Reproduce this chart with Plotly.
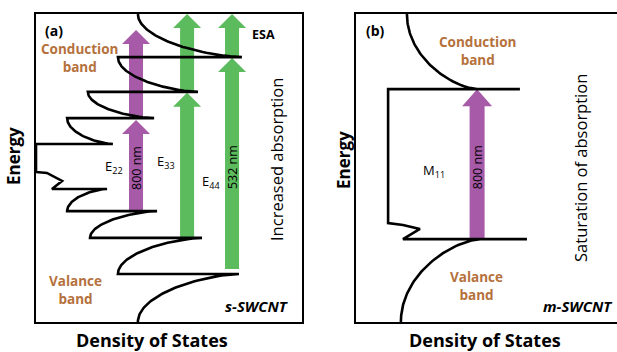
import numpy as np
import plotly.graph_objects as go

# ---------------- data (arbitrary units: DOS 0-100, Energy 0-100) ----------------
# panel (a) s-SWCNT : van Hove singularities
a_cond_energy = [86.0, 74.7, 66.2, 57.8]
a_cond_left = [30.8, 19.5, 11.7, 0.0]
a_cond_peak = [77.4, 60.9, 44.4, 28.9]
a_cond_top = [38.3, 100.0]            # (DOS, energy) where the upper curve leaves the frame
a_gap_dos = [0.0, 0.0, 4.1, 9.8, 6.0]
a_gap_energy = [57.8, 48.7, 48.4, 45.8, 43.2]
a_val_energy = [43.2, 36.0, 27.3, 15.6]
a_val_left = [6.0, 11.7, 20.3, 30.8]
a_val_peak = [26.7, 45.5, 62.4, 76.3]
a_val_bottom = [38.3, 0.0]

# transitions in panel (a)
a_arrow_label = ["800 nm", "800 nm", "532 nm", "532 nm", "532 nm", "532 nm"]
a_arrow_dos = [37.6, 37.6, 56.8, 56.8, 73.7, 73.7]
a_arrow_from = [36.0, 66.2, 27.3, 74.7, 17.2, 86.0]
a_arrow_to = [65.6, 94.8, 74.4, 100.0, 85.7, 100.0]

# panel (b) m-SWCNT
b_cond_energy = 75.6
b_cond_left, b_cond_peak, b_cond_right = 12.3, 46.4, 62.8
b_cond_top = [19.5, 100.0]
b_gap_dos = [12.3, 12.3, 18.0, 24.5, 18.0]
b_gap_energy = [75.6, 32.1, 31.5, 30.2, 26.9]
b_val_energy = 26.9
b_val_left, b_val_peak, b_val_right = 18.0, 47.5, 65.5
b_val_bottom = [17.2, 0.0]

b_arrow_label = ["800 nm"]
b_arrow_dos = [46.4]
b_arrow_from = [26.9]
b_arrow_to = [75.6]

PURPLE = "#A65AA8"
GREEN = "#5CBB5C"
BROWN = "#B5713C"
FONT = "Open Sans"

W, H = 617, 352
A_DOM = [36 / W, 302 / W]
B_DOM = [356 / W, 1.0]
Y_DOM = [30 / H, 338 / H]


def vhs(px, pe, fx, fe, n=60):
    """van Hove-like branch from the peak (px,pe) to the far point (fx,fe)."""
    s = np.linspace(0, 1, n)
    d = 1 - (1 - (1 - s) ** 2) ** 0.65
    return list(fx + (px - fx) * d), list(pe + (fe - pe) * s)


def path_a():
    xs, ys = [], []
    x, y = vhs(a_cond_peak[0], a_cond_energy[0], *a_cond_top)
    xs += x[::-1]; ys += y[::-1]
    xs.append(a_cond_left[0]); ys.append(a_cond_energy[0])
    for k in range(1, len(a_cond_energy)):
        x, y = vhs(a_cond_peak[k], a_cond_energy[k], a_cond_left[k - 1], a_cond_energy[k - 1])
        xs += x[::-1]; ys += y[::-1]
        xs.append(a_cond_left[k]); ys.append(a_cond_energy[k])
    xs += a_gap_dos; ys += a_gap_energy
    xs.append(a_val_peak[0]); ys.append(a_val_energy[0])
    for k in range(len(a_val_energy)):
        if k + 1 < len(a_val_energy):
            far = (a_val_left[k + 1], a_val_energy[k + 1])
        else:
            far = tuple(a_val_bottom)
        x, y = vhs(a_val_peak[k], a_val_energy[k], *far)
        xs += x; ys += y
        if k + 1 < len(a_val_energy):
            xs.append(a_val_peak[k + 1]); ys.append(a_val_energy[k + 1])
    return xs, ys


def path_b():
    xs, ys = [], []
    x, y = vhs(b_cond_peak, b_cond_energy, *b_cond_top)
    xs += x[::-1]; ys += y[::-1]
    xs += [b_cond_right, b_cond_left]; ys += [b_cond_energy, b_cond_energy]
    xs += b_gap_dos; ys += b_gap_energy
    xs += [b_val_right, b_val_peak]; ys += [b_val_energy, b_val_energy]
    x, y = vhs(b_val_peak, b_val_energy, *b_val_bottom)
    xs += x; ys += y
    return xs, ys


def arrow(xc, y0, y1, px_per_x, px_per_y, shaft=7.0, head=14.0, hl=14.0):
    sw = shaft / px_per_x
    hw = head / px_per_x
    hL = hl / px_per_y
    yb = y1 - hL
    return ([xc - sw, xc - sw, xc - hw, xc, xc + hw, xc + sw, xc + sw, xc - sw],
            [y0, yb, yb, y1, yb, yb, y0, y0])


fig = go.Figure()

pxa = (A_DOM[1] - A_DOM[0]) * W / 100
pxb = (B_DOM[1] - B_DOM[0]) * W / 100
pyy = (Y_DOM[1] - Y_DOM[0]) * H / 100

for lab, xc, y0, y1 in zip(a_arrow_label, a_arrow_dos, a_arrow_from, a_arrow_to):
    ax_, ay_ = arrow(xc, y0, y1, pxa, pyy)
    c = PURPLE if lab.startswith("800") else GREEN
    fig.add_trace(go.Scatter(x=ax_, y=ay_, fill="toself", fillcolor=c, mode="lines",
                             line=dict(width=0, color=c), xaxis="x", yaxis="y",
                             hoverinfo="skip", showlegend=False))
for lab, xc, y0, y1 in zip(b_arrow_label, b_arrow_dos, b_arrow_from, b_arrow_to):
    ax_, ay_ = arrow(xc, y0, y1, pxb, pyy, shaft=7.5, head=15, hl=17)
    fig.add_trace(go.Scatter(x=ax_, y=ay_, fill="toself", fillcolor=PURPLE, mode="lines",
                             line=dict(width=0, color=PURPLE), xaxis="x2", yaxis="y2",
                             hoverinfo="skip", showlegend=False))

xa, ya = path_a()
fig.add_trace(go.Scatter(x=xa, y=ya, mode="lines", line=dict(color="black", width=2.6),
                         xaxis="x", yaxis="y", showlegend=False, hoverinfo="skip"))
xb, yb = path_b()
fig.add_trace(go.Scatter(x=xb, y=yb, mode="lines", line=dict(color="black", width=2.6),
                         xaxis="x2", yaxis="y2", showlegend=False, hoverinfo="skip"))

axis_common = dict(showline=True, linecolor="black", linewidth=2.2, showgrid=False,
                   zeroline=False, showticklabels=False, ticks="", range=[0, 100])
fig.update_layout(
    width=W, height=H, margin=dict(l=0, r=0, t=0, b=0),
    paper_bgcolor="white", plot_bgcolor="white",
    font=dict(family=FONT, color="black"),
    xaxis=dict(domain=A_DOM, mirror=True, **axis_common),
    yaxis=dict(domain=Y_DOM, mirror=True, **axis_common),
    xaxis2=dict(domain=B_DOM, mirror=True, anchor="y2", **axis_common),
    yaxis2=dict(domain=Y_DOM, mirror=False, anchor="x2", **axis_common),
)


def ann(text, x, y, ref="", size=13, color="black", angle=0, xanchor="center"):
    if ref == "paper":
        xr, yr = "paper", "paper"
    else:
        xr, yr = "x" + ref, "y" + ref
    fig.add_annotation(text=text, x=x, y=y, xref=xr, yref=yr, showarrow=False,
                       textangle=angle, font=dict(family=FONT, size=size, color=color),
                       xanchor=xanchor, yanchor="middle")


# panel (a) texts
ann("<b>(a)</b>", 6.8, 94.5, size=14)
ann("<b>Conduction<br>band</b>", 16.2, 85.7, size=13.5, color=BROWN)
ann("<b>Valance<br>band</b>", 14.7, 10.4, size=13.5, color=BROWN)
ann("<b>ESA</b>", 85.7, 93.2, size=12.5)
ann("E<sub>22</sub>", 29.3, 50.3, size=13)
ann(a_arrow_label[0], a_arrow_dos[0], 50.0, size=12.5, angle=-90)
ann("E<sub>33</sub>", 48.9, 51.9, size=13)
ann("E<sub>44</sub>", 65.8, 45.5, size=13)
ann(a_arrow_label[4], a_arrow_dos[4], 50.3, size=12.5, angle=-90)
ann("Increased absorption", 90.6, 52.6, size=16.5, angle=-90)
ann("<b><i>s-SWCNT</i></b>", 83.1, 5.2, size=15)

# panel (b) texts
ann("<b>(b)</b>", 7.5, 94.8, ref="2", size=14)
ann("<b>Conduction<br>band</b>", 46.4, 88.0, ref="2", size=13.5, color=BROWN)
ann("<b>Valance<br>band</b>", 46.0, 11.7, ref="2", size=13.5, color=BROWN)
ann("M<sub>11</sub>", 29.9, 49.0, ref="2", size=13)
ann(b_arrow_label[0], b_arrow_dos[0], 50.3, ref="2", size=12.5, angle=-90)
ann("Saturation of absorption", 85.8, 50.0, ref="2", size=16.5, angle=-90)
ann("<b><i>m-SWCNT</i></b>", 99.4, 5.2, ref="2", size=15, xanchor="right")

# outer axis labels
ann("<b>Energy</b>", 14 / W, 1 - 156 / H, ref="paper", size=17, angle=-90)
ann("<b>Energy</b>", 343 / W, 1 - 160 / H, ref="paper", size=17, angle=-90)
ann("<b>Density of States</b>", 152 / W, 1 - 340 / H, ref="paper", size=18)
ann("<b>Density of States</b>", 485 / W, 1 - 340 / H, ref="paper", size=18)

fig.write_html("out.html", config={"displayModeBar": False},
               post_script="document.body.style.margin='0';document.body.style.overflow='hidden';")
